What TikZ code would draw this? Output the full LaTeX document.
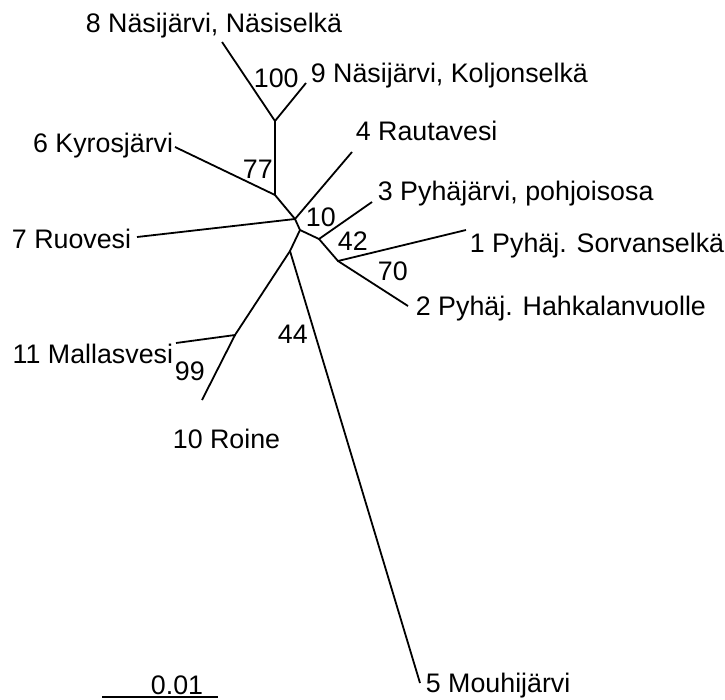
\documentclass[tikz,border=0pt]{standalone}
\usepackage{fontspec}
\setmainfont{Liberation Sans}
\begin{document}
\begin{tikzpicture}[x=1pt,y=-1pt,line width=1.8pt,
    lbl/.style={inner sep=0pt,font=\fontsize{26.8}{31}\selectfont},
    taxon/.style={lbl,anchor=base west},
    taxonl/.style={lbl,anchor=base east},
    boot/.style={lbl,anchor=base west}]
                \useasboundingbox (0,0) rectangle (725,699);
                % inner nodes of the tree
                \coordinate (n100) at (275,121);
                \coordinate (n77) at (275,195);
                \coordinate (nA) at (295,219);
                \coordinate (nB) at (300,230);
                \coordinate (n42) at (319,239);
                \coordinate (n70) at (338,261);
                \coordinate (n44) at (290,251);
                \coordinate (n99) at (235,335);
                % tips
                \coordinate (t8) at (222,42);
                \coordinate (t9) at (306,83);
                \coordinate (t6) at (175,147);
                \coordinate (t4) at (352,152);
                \coordinate (t7) at (137,237);
                \coordinate (t3) at (372,202);
                \coordinate (t1) at (466,230);
                \coordinate (t2) at (408,306);
                \coordinate (t11) at (176,343);
                \coordinate (t10) at (202,400);
                \coordinate (t5) at (420,683);
                % branches
                \draw (t8)--(n100)--(t9);
                \draw (n100)--(n77)--(t6);
                \draw (n77)--(nA)--(t4);
                \draw (nA)--(t7);
                \draw (nA)--(nB)--(n42)--(t3);
                \draw (n42)--(n70)--(t1);
                \draw (n70)--(t2);
                \draw (nB)--(n44)--(t5);
                \draw (n44)--(n99)--(t11);
                \draw (n99)--(t10);
                % taxon names
                \node[taxon] (l8) at (85,32) {8 Näsijärvi, Näsiselkä};
                \node[taxon] (l9) at (310,82) {9 Näsijärvi, Koljonselkä};
                \node[taxonl] (l6) at (174,152) {6 Kyrosjärvi};
                \node[taxon] (l4) at (355,140) {4 Rautavesi};
                \node[taxon] (l3) at (377,200) {3 Pyhäjärvi, pohjoisosa};
                \node[taxonl] (l7) at (132,248) {7 Ruovesi};
                \node[taxon] (l1) at (469,252) {1 Pyhäj. Sorvanselkä};
                \node[taxon] (l2) at (415,315) {2 Pyhäj. Hahkalanvuolle};
                \node[taxonl] (l11) at (174,363) {11 Mallasvesi};
                \node[taxon] (l10) at (172,448) {10 Roine};
                \node[taxon] (l5) at (425,692) {5 Mouhijärvi};
                % bootstrap values
                \node[boot] (b100) at (253,87) {100};
                \node[boot] (b77) at (242,178) {77};
                \node[boot] (b10) at (305,226) {10};
                \node[boot] (b42) at (337,250) {42};
                \node[boot] (b70) at (377,280) {70};
                \node[boot] (b44) at (277,343) {44};
                \node[boot] (b99) at (174,380) {99};
                % scale bar
                \coordinate (s0) at (102,697);
                \coordinate (s1) at (218,697);
                \draw (s0)--(s1);
                \node[boot] (sc) at (150,694) {0.01};
\end{tikzpicture}
\end{document}
